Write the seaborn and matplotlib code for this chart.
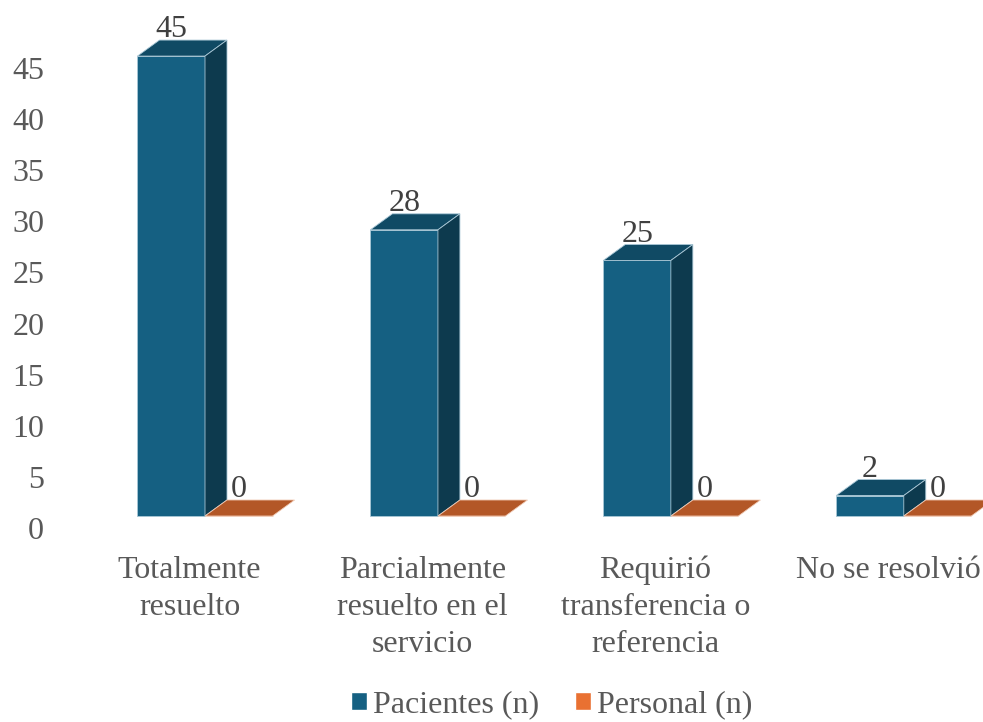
import matplotlib
matplotlib.use("Agg")
import matplotlib.pyplot as plt
import numpy as np
import pandas as pd
import seaborn as sns
from matplotlib.patches import Polygon
from matplotlib.transforms import ScaledTranslation
from matplotlib.colors import to_rgb

categories = ["Totalmente\nresuelto", "Parcialmente\nresuelto en el\nservicio",
              "Requirió\ntransferencia o\nreferencia", "No se resolvió"]
series = ["Pacientes (n)", "Personal (n)"]
pacientes = [45, 28, 25, 2]
personal = [0, 0, 0, 0]
yticks = [0, 5, 10, 15, 20, 25, 30, 35, 40, 45]
colors = {"Pacientes (n)": "#156082", "Personal (n)": "#E97132"}
edges = {"Pacientes (n)": "#a9c7d6", "Personal (n)": "#f0c9b3"}

df = pd.DataFrame({
    "cat": categories * 2,
    "serie": [series[0]] * len(categories) + [series[1]] * len(categories),
    "n": pacientes + personal,
})

sns.set_style("white")
plt.rcParams["font.family"] = ["Liberation Serif", "DejaVu Serif"]
txt = "#595959"
fs = 23

fig = plt.figure(figsize=(9.83, 7.22), dpi=100)
ax = fig.add_axes([0.0506, 0.2687, 0.949, 0.7078])

sns.barplot(data=df, x="cat", y="n", hue="serie", palette=colors, width=0.58,
            saturation=1, ax=ax)
ax.set_xlim(-0.6, 3.405)
ax.set_ylim(0, 50)

# fake 3D: front offset + depth in pixels
off = ScaledTranslation(15.5 / 100, 12 / 100, fig.dpi_scale_trans)
trans = ax.transData + off
inv = ax.transData.inverted()
p0 = ax.transData.transform((0, 0))
ddx, ddy = inv.transform(p0 + np.array([22, 16])) - inv.transform(p0)


def shade(c, f):
    r, g, b = to_rgb(c)
    return (r * f, g * f, b * f)


for cont, name in zip(ax.containers, series):
    base = colors[name]
    for bar in cont:
        x0, w, h = bar.get_x(), bar.get_width(), bar.get_height()
        bar.set_transform(trans)
        bar.set_edgecolor(edges[name])
        bar.set_linewidth(0.6)
        top = [(x0, h), (x0 + w, h), (x0 + w + ddx, h + ddy), (x0 + ddx, h + ddy)]
        ax.add_patch(Polygon(top, closed=True, transform=trans,
                             facecolor=shade(base, 0.77), edgecolor=edges[name], lw=0.6))
        if h > 0:
            side = [(x0 + w, 0), (x0 + w + ddx, ddy), (x0 + w + ddx, h + ddy), (x0 + w, h)]
            ax.add_patch(Polygon(side, closed=True, transform=trans,
                                 facecolor=shade(base, 0.6), edgecolor=edges[name], lw=0.6))
        ax.annotate(f"{h:g}", (x0 + w / 2, h), xytext=(11.2, 22.3),
                    textcoords="offset points", ha="center", va="baseline",
                    fontsize=fs, color="#404040")

ax.set_yticks(yticks)
ax.set_xlabel("")
ax.set_ylabel("")
ax.tick_params(axis="y", length=0, pad=4, labelsize=fs, labelcolor=txt)
ax.tick_params(axis="x", length=0, pad=20, labelsize=fs, labelcolor=txt)
for lab in ax.get_xticklabels():
    lab.set_linespacing(1.36)
sns.despine(ax=ax, left=True, bottom=True)

sns.move_legend(ax, "center", bbox_to_anchor=(0.538, -0.346), ncol=2, title=None,
                frameon=False, fontsize=fs, handlelength=0.5, handleheight=0.5,
                handletextpad=0.2, columnspacing=1.1)
for t in ax.get_legend().get_texts():
    t.set_color(txt)

fig.savefig("out.png", dpi=100)
